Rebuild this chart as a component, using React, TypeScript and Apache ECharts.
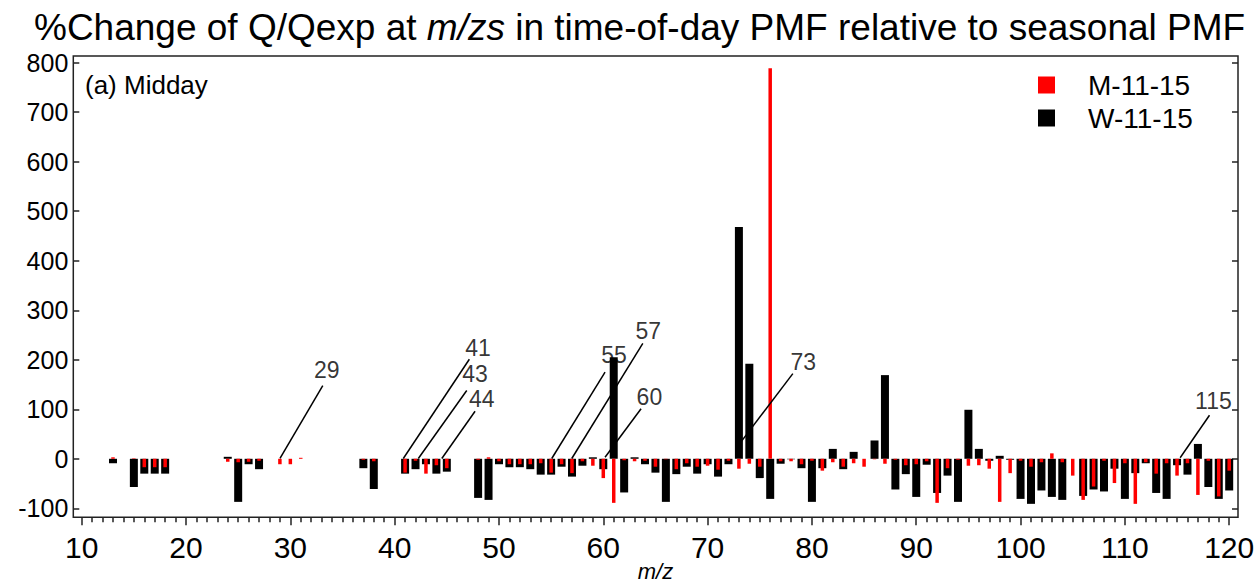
import React, { useEffect, useRef } from "react";
import * as echarts from "echarts";

// m/z channels and % change values
const mz = [13, 15, 16, 17, 18, 24, 25, 26, 27, 29, 30, 31, 37, 38, 41, 42, 43, 44, 45, 48, 49, 50, 51, 52, 53, 54, 55, 56, 57, 58, 59, 60, 61, 62, 63, 64, 65, 66, 67, 68, 69, 70, 71, 72, 73, 74, 75, 76, 77, 78, 79, 80, 81, 82, 83, 84, 85, 86, 87, 88, 89, 90, 91, 92, 93, 94, 95, 96, 97, 98, 99, 100, 101, 102, 103, 104, 105, 106, 107, 108, 109, 110, 111, 112, 113, 114, 115, 116, 117, 118, 119, 120];
// W-11-15 (black)
const wValues = [-9, -57, -30, -30, -30, 4, -87, -11, -21, 0, 0, 0, -19, -61, -30, -21, -11, -30, -26, -79, -83, -11, -17, -17, -21, -32, -32, -16, -36, -14, 3, -21, 205, -68, 3, -11, -28, -87, -31, -16, -30, -11, -36, -11, 468, 192, -39, -81, -10, -1, -19, -87, -19, 20, -21, 14, 0, 37, 169, -62, -31, -77, -12, -69, -34, -87, 99, 20, -4, 6, -2, -81, -91, -64, -77, -83, 0, -75, -62, -66, -20, -81, -29, -9, -69, -81, -13, -32, 30, -57, -81, -64];
// M-11-15 (red)
const mValues = [3, 1, -17, -17, -17, -6, -7, -6, -4, -11, -11, 2, -2, -5, -28, -4, -30, -13, -19, -2, 3, -5, -11, -11, -11, -9, -28, -11, -29, -5, -14, -39, -89, -3, -5, -4, -16, -1, -21, -9, -16, -14, -22, -4, -20, -10, -16, 789, -5, -5, -11, -4, -24, -7, -16, -9, -16, -1, -10, -2, -13, -11, -5, -89, -19, -2, -14, -13, -20, -87, -29, -4, -16, -7, 11, -7, -34, -83, -56, -4, -49, -9, -91, -7, -30, -9, -34, -9, -73, -4, -76, -24];

// annotation labels with leader lines (data units: m/z, %)
const annotLabels = ["29", "41", "43", "44", "55", "57", "60", "73", "115"];
const annotFrom = [[29.01, 0.6], [40.83, 0.6], [42.27, 0.6], [44.52, 0.6], [55.06, 0.6], [56.98, 0.6], [60.17, 3], [72.8, 23], [115.3, 2]];
const annotTo = [[33.11, 148], [47.16, 201], [46.91, 138], [47.71, 96], [60.17, 175], [63.79, 233], [63.62, 101], [78.17, 172], [118.11, 88]];
const annotText = [[33.49, 179], [48.0, 223], [47.71, 171], [48.35, 120], [61.03, 209], [64.32, 259], [64.42, 125], [79.18, 195], [118.49, 117]];

const FONT = "'Liberation Sans', Arial, sans-serif";

export default function App() {
  const ref = useRef<HTMLDivElement>(null);
  useEffect(() => {
    if (!ref.current) return;
    const chart = echarts.init(ref.current, null, { renderer: "svg" });
    const W = 1256, H = 583;
    const gLeft = 81.7, gRight = 1229.2, gTop = 62.7, gBottom = 508.3;
    const frame = { x1: 73.3, x2: 1238, y1: 56, y2: 517.3 };
    const tickStyle = { color: "#222", width: 1.5 };

    const lineSeries = annotLabels.map((lab, i) => ({
      type: "line",
      name: "ann" + lab,
      xAxisIndex: 0,
      yAxisIndex: 0,
      data: [annotFrom[i], annotTo[i]],
      symbol: "none",
      silent: true,
      lineStyle: { color: "#000", width: 1.5 },
      z: 5,
    }));

    const option: any = {
      animation: false,
      backgroundColor: "#fff",
      title: {
        left: 29,
        top: 4,
        text: "{a|%Change of Q/Qexp at }{b|m/zs}{a| in time-of-day PMF relative to seasonal PMF}",
        textStyle: {
          fontWeight: "normal",
          rich: {
            a: { fontSize: 37, fontFamily: FONT, color: "#000", fontWeight: "normal" },
            b: { fontSize: 37, fontFamily: FONT, color: "#000", fontStyle: "italic", fontWeight: "normal" },
          },
        },
      },
      legend: {
        data: ["M-11-15", "W-11-15"],
        orient: "vertical",
        left: 1038,
        top: 70,
        padding: 0,
        itemWidth: 17,
        itemHeight: 17,
        itemGap: 3,
        icon: "rect",
        textStyle: { fontSize: 28, fontFamily: FONT, color: "#000", lineHeight: 30, padding: [0, 0, 0, 28] },
      },
      grid: {
        left: gLeft,
        right: W - gRight,
        top: gTop,
        bottom: H - gBottom,
        containLabel: false,
        outerBoundsMode: "none",
      },
      xAxis: [
        {
          type: "value",
          min: 10,
          max: 120,
          interval: 10,
          position: "bottom",
          offset: frame.y2 - gBottom,
          axisLine: { show: false, onZero: false },
          axisTick: { show: true, length: 8, lineStyle: tickStyle },
          minorTick: { show: true, splitNumber: 10, length: 5, lineStyle: tickStyle },
          axisLabel: { fontSize: 30, fontFamily: FONT, color: "#000", margin: 15 },
          splitLine: { show: false },
          minorSplitLine: { show: false },
          name: "m/z",
          nameLocation: "middle",
          nameGap: 43,
          nameMoveOverlap: false,
          nameTextStyle: { fontSize: 22, fontFamily: FONT, fontStyle: "italic", color: "#000" },
        },
        { type: "value", min: 10, max: 120, show: false, position: "bottom", axisLine: { onZero: false } },
      ],
      yAxis: [
        {
          type: "value",
          min: -100,
          max: 800,
          interval: 100,
          position: "left",
          offset: gLeft - frame.x1,
          axisLine: { show: false, onZero: false },
          axisTick: { show: true, inside: true, length: 6, lineStyle: tickStyle },
          axisLabel: { fontSize: 25, fontFamily: FONT, color: "#000", margin: 5 },
          splitLine: { show: false },
        },
        {
          type: "value",
          min: -100,
          max: 800,
          interval: 100,
          position: "right",
          offset: frame.x2 - gRight,
          axisLine: { show: false, onZero: false },
          axisTick: { show: true, inside: true, length: 6, lineStyle: tickStyle },
          axisLabel: { show: false },
          splitLine: { show: false },
        },
      ],
      graphic: [
        {
          type: "rect",
          shape: { x: frame.x1, y: frame.y1, width: frame.x2 - frame.x1, height: frame.y2 - frame.y1 },
          style: { fill: "none", stroke: "#222", lineWidth: 1.5 },
          z: 100,
          silent: true,
        },
        {
          type: "text",
          x: 85,
          y: 85,
          style: { text: "(a) Midday", fontSize: 26, fontFamily: FONT, fill: "#000", verticalAlign: "middle", align: "left" },
          z: 100,
        },
      ],
      series: [
        {
          type: "bar",
          name: "W-11-15",
          xAxisIndex: 0,
          yAxisIndex: 0,
          barWidth: 8,
          itemStyle: { color: "#000" },
          data: mz.map((m, i) => [m, wValues[i]]),
          z: 2,
        },
        {
          type: "bar",
          name: "M-11-15",
          xAxisIndex: 1,
          yAxisIndex: 0,
          barWidth: 3.5,
          itemStyle: { color: "#ff0000" },
          data: mz.map((m, i) => [m, mValues[i]]),
          z: 3,
        },
        ...lineSeries,
        {
          type: "scatter",
          name: "annLabels",
          xAxisIndex: 0,
          yAxisIndex: 0,
          symbolSize: 1,
          itemStyle: { color: "rgba(0,0,0,0)" },
          silent: true,
          data: annotLabels.map((lab, i) => ({ name: lab, value: annotText[i] })),
          label: {
            show: true,
            position: "inside",
            formatter: "{b}",
            fontSize: 23,
            fontFamily: FONT,
            color: "#000",
          },
          z: 6,
        },
      ],
    };
    chart.setOption(option);
    return () => chart.dispose();
  }, []);
  return <div ref={ref} style={{ position: "absolute", left: 0, top: 0, width: 1256, height: 583 }} />;
}
